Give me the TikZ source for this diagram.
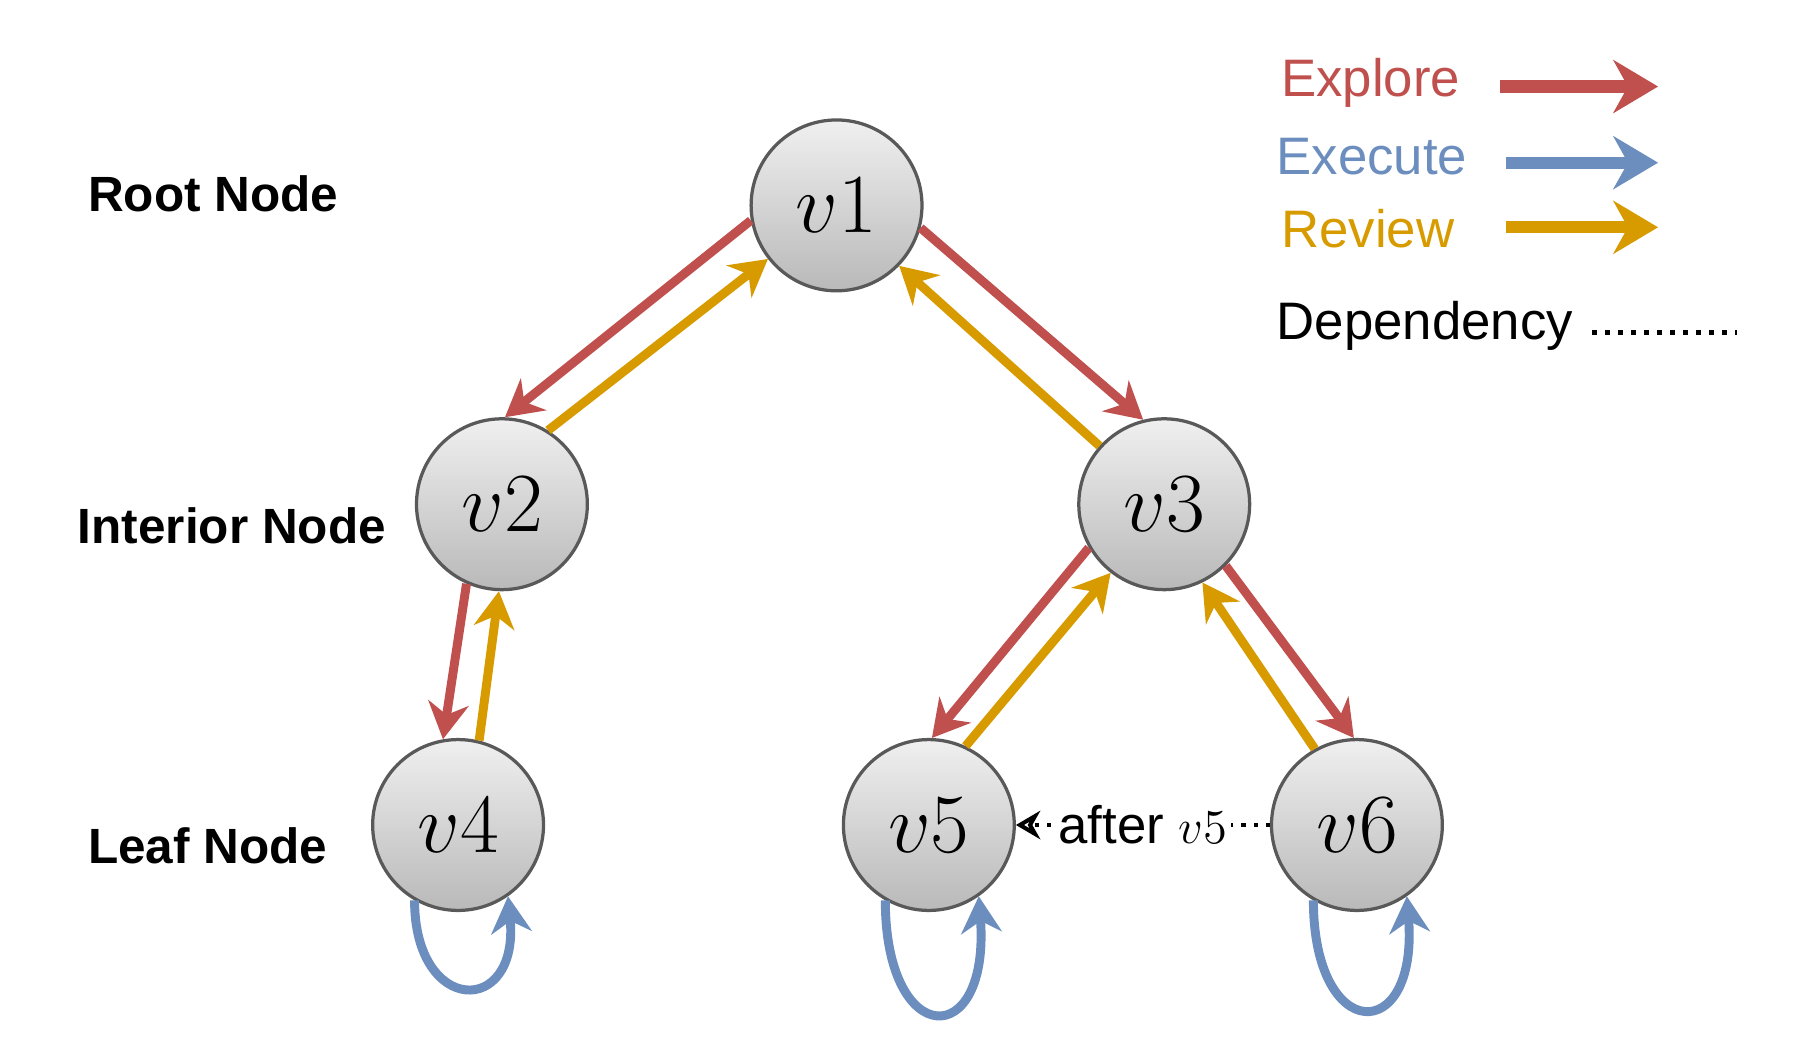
\documentclass[tikz,border=0pt]{standalone}
\usepackage{fontspec}
\setmainfont{Liberation Sans}
\usetikzlibrary{arrows.meta}
\definecolor{expl}{HTML}{C0504D}
\definecolor{exec}{HTML}{6C8EBF}
\definecolor{rev}{HTML}{D79B00}
\begin{document}
\begin{tikzpicture}[x=0.01cm,y=-0.01cm,
  vn/.style={circle,minimum size=1.48cm,inner sep=0pt,draw=black!65,line width=0.8pt,top color=gray!12,bottom color=gray!55,font=\fontsize{22}{24}\selectfont},
  lvl/.style={font=\bfseries\fontsize{12.2}{14}\selectfont,anchor=west},
  leg/.style={font=\fontsize{13}{15}\selectfont,anchor=west},
  ex/.style={expl,line width=2.2pt,-{Stealth[length=9pt,width=10pt]}},
  rv/.style={rev,line width=2.2pt,-{Stealth[length=9pt,width=10pt]}},
  xc/.style={exec,line width=2.2pt,-{Stealth[length=9pt,width=10pt]}},
  lg/.style={line width=3pt,-{Stealth[length=11pt,width=13pt]}}]
\useasboundingbox (0,0) rectangle (1560,900);
\node[vn] (v1) at (725,178) {$v1$};
\node[vn] (v2) at (435,437) {$v2$};
\node[vn] (v3) at (1009,437) {$v3$};
\node[vn] (v4) at (397,715) {$v4$};
\node[vn] (v5) at (805,715) {$v5$};
\node[vn] (v6) at (1176,715) {$v6$};
\node[lvl] (l1) at (64,168) {Root Node};
\node[lvl] (l2) at (55,456) {Interior Node};
\node[lvl] (l3) at (64,733) {Leaf Node};
\draw[ex] (v1.190) -- (v2.88);
\draw[rv] (v2.58) -- (v1.218);
\draw[ex] (v1.-15) -- (v3.104);
\draw[rv] (v3.138) -- (v1.-44);
\draw[ex] (v2.246) -- (v4.100);
\draw[rv] (v4.76) -- (v2.268);
\draw[ex] (v3.210) -- (v5.88);
\draw[rv] (v5.65) -- (v3.232);
\draw[ex] (v3.-45) -- (v6.92);
\draw[rv] (v6.119) -- (v3.-64);
\draw[xc] (v4.240) .. controls +(0,100) and +(10,105) .. (v4.-55);
\draw[xc] (v5.240) .. controls +(0,130) and +(10,135) .. (v5.-55);
\draw[xc] (v6.240) .. controls +(0,125) and +(10,130) .. (v6.-55);
\draw[dotted,line width=1pt,-{Stealth[open,length=6pt,width=7pt]}] (v6.west) -- node[fill=white,inner sep=1pt,font=\fontsize{13}{15}\selectfont] (dl) {after $v5$} (v5.east);
\node[leg,text=expl] (t1) at (1098,72) {Explore};
\node[leg,text=exec] (t2) at (1094,136) {Execute};
\node[leg,text=rev] (t3) at (1098,198) {Review};
\node[leg] (t4) at (1094,282) {Dependency};
\coordinate (a1) at (1300,75); \coordinate (b1) at (1437,75);
\coordinate (a2) at (1305,141); \coordinate (b2) at (1437,141);
\coordinate (a3) at (1305,197); \coordinate (b3) at (1437,197);
\coordinate (a4) at (1380,288); \coordinate (b4) at (1505,288);
\draw[lg,expl] (a1) -- (b1);
\draw[lg,exec] (a2) -- (b2);
\draw[lg,rev] (a3) -- (b3);
\draw[dotted,line width=1.2pt] (a4) -- (b4);
\end{tikzpicture}
\end{document}
